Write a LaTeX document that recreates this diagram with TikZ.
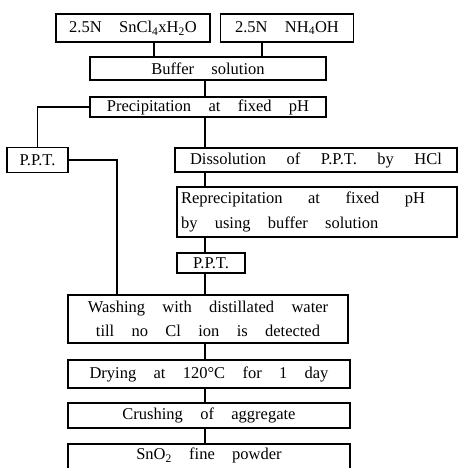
\documentclass[tikz,border=0pt]{standalone}
\usepackage{fontspec}
\setmainfont{Liberation Serif}
\usetikzlibrary{positioning}

\begin{document}
\begin{tikzpicture}[
        x=1pt, y=-1pt,
        procbox/.style={
                rectangle,
                draw=black,
                line width=1.2pt,
                inner sep=2pt,
                font=\fontsize{16.5}{24.5}\selectfont,
                execute at begin node={\spaceskip=1.05em plus 0.2em}
            },
        link/.style={
                draw=black,
                line width=1.1pt
            }
    ]
    \useasboundingbox (0,0) rectangle (459,468);

    \coordinate (spine) at (205,0);
    \coordinate (jA) at (154,0);
    \coordinate (jB) at (262,0);
    \coordinate (jC) at (117,0);

    \node[procbox, minimum width=154pt, minimum height=28pt] (sncl) at (133,28) {2.5N SnCl\textsubscript{4}xH\textsubscript{2}O};
    \node[procbox, minimum width=133pt, minimum height=28pt] (nhoh) at (287,28) {2.5N NH\textsubscript{4}OH};
    \node[procbox, minimum width=236pt, minimum height=23pt] (buffer) at (208,68.5) {Buffer solution};
    \node[procbox, minimum width=236pt, minimum height=20pt] (precip) at (208,107) {Precipitation at fixed pH};
    \node[procbox, minimum width=61pt, minimum height=25pt] (pptA) at (37.5,160) {P.P.T.};
    \node[procbox, minimum width=282pt, minimum height=24pt] (dissol) at (316,160) {\makebox[252pt][s]{Dissolution of P.P.T. by HCl}};
    \node[procbox, minimum width=280pt, minimum height=50pt, text width=272pt, align=left] (reprecip) at (317,212) {\makebox[244pt][s]{Reprecipitation at fixed pH}\\by using buffer solution};
    \node[procbox, minimum width=280pt, minimum height=48pt, align=center] (washing) at (208,319) {Washing with distillated water\\till no Cl ion is detected};
    \node[procbox, minimum width=68pt, minimum height=20pt] (pptB) at (211,263) {P.P.T.};
    \node[procbox, minimum width=282pt, minimum height=28pt] (drying) at (209,374) {Drying at 120\textdegree C for 1 day};
    \node[procbox, minimum width=282pt, minimum height=25pt] (crushing) at (209,415.5) {Crushing of aggregate};
    \node[procbox, minimum width=282pt, minimum height=40pt, text depth=20pt] (powder) at (209,464) {SnO\textsubscript{2} fine powder};

    % feed lines
    \draw[link] (sncl.south -| jA) -- (buffer.north -| jA);
    \draw[link] (nhoh.south -| jB) -- (buffer.north -| jB);
    \draw[link] (buffer.south -| spine) -- (precip.north -| spine);

    % branches
    \draw[link] (precip.west) -| (pptA.north);
    \draw[link] (precip.south -| spine) -- (dissol.north -| spine);
    \draw[link] (pptA.east) -| (washing.north -| jC);

    % main line
    \foreach \from/\to in {dissol/reprecip, reprecip/pptB, pptB/washing, washing/drying, drying/crushing, crushing/powder}
        \draw[link] (\from.south -| spine) -- (\to.north -| spine);
\end{tikzpicture}
\end{document}
